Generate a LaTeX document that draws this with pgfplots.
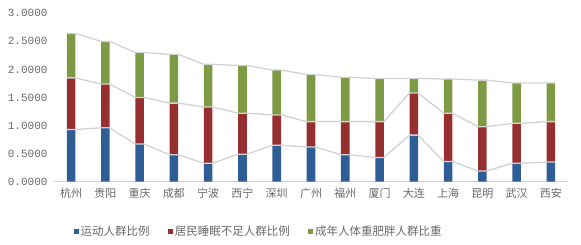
\documentclass[border=0pt]{standalone}
\usepackage{pgfplots}
\pgfplotsset{compat=1.18}
\usepackage{pgfplotstable}
\usepackage{fontspec}
\setmainfont{Noto Sans CJK SC}
\newfontfamily\digitfont{Liberation Mono}
\definecolor{cblue}{RGB}{47,94,151}
\definecolor{cred}{RGB}{150,48,48}
\definecolor{cgreen}{RGB}{126,154,69}
\definecolor{linegray}{RGB}{210,210,210}
\definecolor{textgray}{RGB}{105,105,105}

\pgfplotstableread{
x      a    b    c
-0.125 0.93 1.85 2.64
0.125  0.93 1.85 2.64
0.875  0.96 1.74 2.50
1.125  0.96 1.74 2.50
1.875  0.67 1.50 2.30
2.125  0.67 1.50 2.30
2.875  0.48 1.40 2.27
3.125  0.48 1.40 2.27
3.875  0.33 1.33 2.09
4.125  0.33 1.33 2.09
4.875  0.49 1.22 2.07
5.125  0.49 1.22 2.07
5.875  0.65 1.19 1.99
6.125  0.65 1.19 1.99
6.875  0.62 1.07 1.91
7.125  0.62 1.07 1.91
7.875  0.48 1.07 1.86
8.125  0.48 1.07 1.86
8.875  0.43 1.07 1.84
9.125  0.43 1.07 1.84
9.875  0.83 1.58 1.84
10.125 0.83 1.58 1.84
10.875 0.36 1.22 1.83
11.125 0.36 1.22 1.83
11.875 0.19 0.98 1.81
12.125 0.19 0.98 1.81
12.875 0.33 1.04 1.76
13.125 0.33 1.04 1.76
13.875 0.35 1.07 1.76
14.125 0.35 1.07 1.76
}\seriesLines

\pgfplotstableread{
x  sport sleep obese
0  0.93  0.92  0.79
1  0.96  0.78  0.76
2  0.67  0.83  0.80
3  0.48  0.92  0.87
4  0.33  1.00  0.76
5  0.49  0.73  0.85
6  0.65  0.54  0.80
7  0.62  0.45  0.84
8  0.48  0.59  0.79
9  0.43  0.64  0.77
10 0.83  0.75  0.26
11 0.36  0.86  0.61
12 0.19  0.79  0.83
13 0.33  0.71  0.72
14 0.35  0.72  0.69
}\barData

\begin{document}
\begin{tikzpicture}[x=1pt,y=1pt]
\useasboundingbox (0,0) rectangle (581,244);
\begin{axis}[
  at={(54pt,62.3pt)}, anchor=south west,
  scale only axis, width=514pt, height=168.4pt,
  xmin=-0.5, xmax=14.5, ymin=0, ymax=3,
  ybar stacked, bar width=0.25,
  axis y line*=left,
  y axis line style={draw=none},
  axis x line*=bottom,
  x axis line style={draw=linegray, line width=0.8pt},
  xtick={0,...,14},
  xticklabels={杭州,贵阳,重庆,成都,宁波,西宁,深圳,广州,福州,厦门,大连,上海,昆明,武汉,西安},
  ytick={0,0.5,...,3},
  major tick length=0pt,
  xticklabel style={font=\fontsize{11}{12}\selectfont, text=textgray, yshift=-3pt},
  yticklabel style={font=\digitfont\fontsize{11}{12}\selectfont, text=textgray, xshift=-3pt},
  /pgf/number format/assume math mode=true,
  yticklabel={\pgfmathprintnumber[fixed,fixed zerofill,precision=4]{\tick}},
  legend columns=3,
  legend style={draw=none, fill=none, at={(0.398,-0.297)}, anchor=center,
    font=\fontsize{11.5}{13}\selectfont, text=textgray,
    /tikz/every even column/.append style={column sep=16pt}},
  legend image code/.code={\fill[#1] (0pt,-2.6pt) rectangle (5.2pt,2.6pt);},
  clip=false,
]
\addplot[stack plots=false, sharp plot, no marks, draw=linegray, line width=1.3pt, forget plot] table[x=x,y=a]{\seriesLines};
\addplot[stack plots=false, sharp plot, no marks, draw=linegray, line width=1.3pt, forget plot] table[x=x,y=b]{\seriesLines};
\addplot[stack plots=false, sharp plot, no marks, draw=linegray, line width=1.3pt, forget plot] table[x=x,y=c]{\seriesLines};
\addplot[fill=cblue, draw=none] table[x=x,y=sport]{\barData};
\addplot[fill=cred, draw=none] table[x=x,y=sleep]{\barData};
\addplot[fill=cgreen, draw=none] table[x=x,y=obese]{\barData};
\legend{运动人群比例,居民睡眠不足人群比例,成年人体重肥胖人群比重}
\end{axis}
\end{tikzpicture}
\end{document}
